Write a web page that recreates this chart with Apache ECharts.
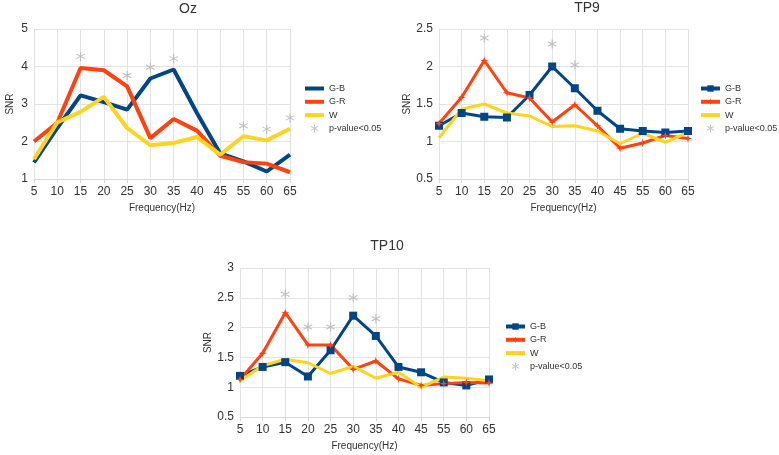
<!DOCTYPE html>
<html>
<head>
<meta charset="utf-8">
<script src="https://cdn.jsdelivr.net/npm/echarts@6/dist/echarts.min.js"></script>
<style>
  html, body { margin: 0; padding: 0; background: #fff; }
  #chart { width: 779px; height: 455px; }
</style>
</head>
<body>
<div id="chart"></div>
<script>
// x categories (no 50 Hz)
const freqs = ["5", "10", "15", "20", "25", "30", "35", "40", "45", "55", "60", "65"];

// Oz
const ozGB = [1.44, 2.36, 3.23, 3.05, 2.85, 3.68, 3.92, 2.76, 1.68, 1.47, 1.2, 1.65];
const ozGR = [2.0, 2.5, 3.96, 3.9, 3.47, 2.09, 2.6, 2.29, 1.62, 1.45, 1.41, 1.18];
const ozW = [1.53, 2.51, 2.79, 3.19, 2.36, 1.9, 1.96, 2.12, 1.65, 2.14, 2.03, 2.34];
const ozP = [null, null, 4.27, null, 3.76, 3.98, 4.21, null, null, 2.42, 2.33, 2.63];

// TP9
const tp9GB = [1.21, 1.38, 1.33, 1.32, 1.62, 2.0, 1.71, 1.41, 1.17, 1.14, 1.12, 1.14];
const tp9GR = [1.24, 1.59, 2.08, 1.65, 1.58, 1.26, 1.49, 1.21, 0.91, 0.98, 1.08, 1.04];
const tp9W = [1.05, 1.43, 1.5, 1.38, 1.34, 1.2, 1.21, 1.14, 0.97, 1.11, 0.99, 1.12];
const tp9P = [null, null, 2.38, null, null, 2.3, 2.02, null, null, null, null, null];

// TP10
const tp10GB = [1.19, 1.34, 1.42, 1.18, 1.62, 2.2, 1.86, 1.34, 1.25, 1.08, 1.03, 1.13];
const tp10GR = [1.13, 1.57, 2.25, 1.71, 1.71, 1.3, 1.44, 1.14, 1.03, 1.06, 1.08, 1.07];
const tp10W = [1.11, 1.36, 1.47, 1.41, 1.23, 1.35, 1.15, 1.25, 1.0, 1.17, 1.15, 1.11];
const tp10P = [null, null, 2.56, 2.01, 2.01, 2.5, 2.15, null, null, null, null, null];

const BLUE = "#004586";
const ORANGE = "#ff420e";
const YELLOW = "#ffd320";
const GREY = "#b3b3b3";
const FONT = "Liberation Sans";

// six-armed asterisk
const ASTER = "path://M56 0L44 0L44 100L56 100Z" +
  "M90.3 80.2L96.3 69.8L9.7 19.8L3.7 30.2Z" +
  "M3.7 69.8L9.7 80.2L96.3 30.2L90.3 19.8Z";
const STAR4 = "path://M50 0L62 38L100 50L62 62L50 100L38 62L0 50L38 38Z";
// plain bar used as legend icon for lines without markers
const BAR = "path://M0 0L100 0L100 21L0 21Z";

const panels = [
  { id: "Oz", gb: ozGB, gr: ozGR, w: ozW, p: ozP, min: 1, max: 5, step: 1,
    grid: { left: 34, right: 489, top: 29, bottom: 276 },
    title: { x: 188, y: 2 }, legend: { left: 305, top: 83 }, marks: false, lw: 4 },
  { id: "TP9", gb: tp9GB, gr: tp9GR, w: tp9W, p: tp9P, min: 0.5, max: 2.5, step: 0.5,
    grid: { left: 439, right: 91, top: 29, bottom: 276 },
    title: { x: 587, y: 1 }, legend: { left: 699, top: 83 }, marks: true, lw: 3 },
  { id: "TP10", gb: tp10GB, gr: tp10GR, w: tp10W, p: tp10P, min: 0.5, max: 3, step: 0.5,
    grid: { left: 240, right: 290, top: 268, bottom: 38 },
    title: { x: 387, y: 239 }, legend: { left: 504, top: 321 }, marks: true, lw: 3 }
];

let titles = [], grids = [], xAxes = [], yAxes = [], legends = [], series = [];

panels.forEach(function (p, i) {
  titles.push({
    text: p.id, left: p.title.x, top: p.title.y, textAlign: "center", padding: 0,
    textStyle: { fontFamily: FONT, fontSize: 14, fontWeight: "normal", color: "#333" }
  });
  grids.push(p.grid);
  xAxes.push({
    type: "category", gridIndex: i, data: freqs, boundaryGap: false,
    name: "Frequency(Hz)", nameLocation: "middle", nameGap: 24,
    nameTextStyle: { fontFamily: FONT, fontSize: 10, color: "#333" },
    axisLine: { lineStyle: { color: "#d9d9d9" } },
    axisTick: { show: true, length: 4, lineStyle: { color: "#d9d9d9" } },
    axisLabel: { fontFamily: FONT, fontSize: 12, color: "#333", margin: 7 },
    splitLine: { show: true, lineStyle: { color: "#e3e3e3" } }
  });
  yAxes.push({
    type: "value", gridIndex: i, min: p.min, max: p.max, interval: p.step,
    name: "SNR", nameLocation: "middle", nameGap: 19,
    nameTextStyle: { fontFamily: FONT, fontSize: 10, color: "#333" },
    axisLine: { show: false }, axisTick: { show: false },
    axisLabel: { fontFamily: FONT, fontSize: 12, color: "#333", margin: 6 },
    splitLine: { lineStyle: { color: "#e3e3e3" } }
  });
  const nm = function (s) { return p.id + "|" + s; };
  const barItem = function (s) { return { name: nm(s), icon: BAR }; };
  legends.push({
    orient: "vertical", left: p.legend.left, top: p.legend.top, padding: 0,
    itemWidth: 19, itemHeight: 8, itemGap: 2.3,
    lineStyle: { width: 4 },
    textStyle: { fontFamily: FONT, fontSize: 9, color: "#333", lineHeight: 11 },
    formatter: function (n) { return n.split("|")[1]; },
    data: [
      p.marks ? nm("G-B") : barItem("G-B"),
      p.marks ? nm("G-R") : barItem("G-R"),
      barItem("W"),
      nm("p-value<0.05")
    ]
  });
  const lineSeries = function (name, data, color, symbol, size) {
    return {
      name: nm(name), type: "line", xAxisIndex: i, yAxisIndex: i, data: data,
      color: color, lineStyle: { width: p.lw, color: color },
      symbol: p.marks ? symbol : "none", symbolSize: size,
      itemStyle: { color: color }, animation: false
    };
  };
  series.push(lineSeries("G-B", p.gb, BLUE, "rect", 8));
  series.push(lineSeries("G-R", p.gr, ORANGE, STAR4, 8));
  series.push(lineSeries("W", p.w, YELLOW, "none", 0));
  series.push({
    name: nm("p-value<0.05"), type: "scatter", xAxisIndex: i, yAxisIndex: i,
    data: p.p, symbol: ASTER, symbolSize: 9, color: GREY,
    itemStyle: { color: GREY }, animation: false
  });
});

const chart = echarts.init(document.getElementById("chart"));
chart.setOption({
  animation: false,
  title: titles,
  grid: grids,
  xAxis: xAxes,
  yAxis: yAxes,
  legend: legends,
  series: series
});
</script>
</body>
</html>
